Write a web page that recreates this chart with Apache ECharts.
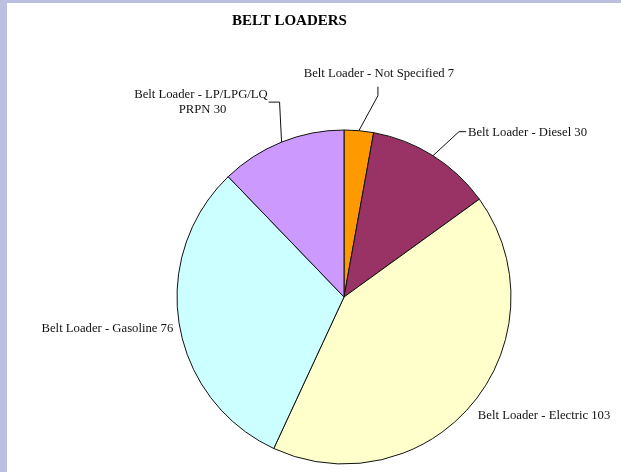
<!DOCTYPE html>
<html>
<head>
<meta charset="utf-8">
<script src="https://cdn.jsdelivr.net/npm/echarts@6/dist/echarts.min.js"></script>
<style>
html,body{margin:0;padding:0;}
#chart{width:621px;height:472px;}
</style>
</head>
<body>
<div id="chart"></div>
<script>
var title = 'BELT LOADERS';
var categories = [
  'Belt Loader - Not Specified',
  'Belt Loader - Diesel',
  'Belt Loader - Electric',
  'Belt Loader - Gasoline',
  'Belt Loader - LP/LPG/LQ PRPN'
];
var values = [7, 30, 103, 76, 30];
var colors = ['#FF9900', '#993366', '#FFFFCC', '#CCFFFF', '#CC99FF'];

// label placement relative to each slice's own label anchor (offsets in px)
var labelOffsets = [
  {dx: 20, dy: -57, align: 'center', line: [[19, -35], [19, -44]]},
  {dx: 35, dy: -23, align: 'left', line: [[26, -24], [33, -24]]},
  {dx: 5, dy: 12, align: 'left', line: null},
  {dx: -6, dy: 4, align: 'right', line: null},
  {dx: -79, dy: -40, align: 'center', line: [[-2, -40], [-13, -40]]}
];

var data = categories.map(function (c, i) {
  var item = {name: c, value: values[i], itemStyle: {color: colors[i]}};
  if (!labelOffsets[i].line) {
    item.labelLine = {show: true, lineStyle: {opacity: 0}};
  }
  if (i === 4) {
    item.label = {width: 160, overflow: 'break'};
  }
  return item;
});

var chart = echarts.init(document.getElementById('chart'), null, {renderer: 'canvas'});
chart.setOption({
  backgroundColor: '#bcbfdf',
  animation: false,
  graphic: [{
    type: 'rect', left: 7, top: 3, z: -10,
    shape: {width: 614, height: 469},
    style: {fill: '#ffffff'}
  }],
  title: {
    text: title,
    left: 232, top: 14, padding: 0,
    textStyle: {fontFamily: 'Liberation Serif', fontWeight: 'bold', fontSize: 15, color: '#000'}
  },
  series: [{
    type: 'pie',
    center: [344, 297],
    radius: 167,
    startAngle: 90,
    clockwise: true,
    avoidLabelOverlap: false,
    data: data,
    itemStyle: {borderColor: '#111', borderWidth: 1},
    label: {
      show: true,
      position: 'outside',
      formatter: '{b} {c}',
      fontFamily: 'Liberation Serif',
      fontSize: 12.7,
      color: '#111',
      lineHeight: 15
    },
    labelLine: {show: true, length: 10, length2: 10, lineStyle: {color: '#111', width: 1}},
    labelLayout: function (p) {
      var o = labelOffsets[p.dataIndex];
      var a = p.labelLinePoints ? p.labelLinePoints[0] : null;
      if (!a) return {};
      var res = {x: a[0] + o.dx, y: a[1] + o.dy, align: o.align, verticalAlign: 'middle'};
      if (o.line) {
        res.labelLinePoints = [
          [a[0], a[1]],
          [a[0] + o.line[0][0], a[1] + o.line[0][1]],
          [a[0] + o.line[1][0], a[1] + o.line[1][1]]
        ];
      }
      return res;
    }
  }]
});
</script>
</body>
</html>
